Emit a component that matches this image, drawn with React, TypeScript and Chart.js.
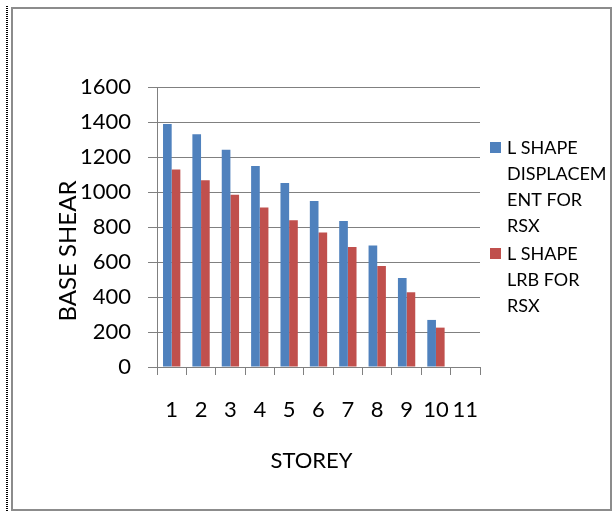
import React, { useEffect, useRef } from "react";
import { Chart, registerables } from "chart.js";

Chart.register(...registerables);

// Storey numbers along the x axis
const STOREYS = ["1", "2", "3", "4", "5", "6", "7", "8", "9", "10", "11"];

// Base shear per storey
const DISPLACEMENT_RSX = [1388, 1330, 1242, 1149, 1051, 949, 834, 694, 509, 269, null];
const LRB_RSX = [1128, 1067, 985, 911, 838, 768, 686, 577, 427, 225, null];

// Legend text, wrapped the way it is shown beside the plot
const DISPLACEMENT_LEGEND = ["L SHAPE", "DISPLACEM", "ENT FOR", "RSX"];
const LRB_LEGEND = ["L SHAPE", "LRB FOR", "RSX"];

const Y_MIN = 0;
const Y_MAX = 1600;
const Y_STEP = 200;

const X_TITLE = "STOREY";
const Y_TITLE = "BASE SHEAR";

const BLUE = "#4F81BD";
const RED = "#C0504D";
const GRID = "#808080";
const FONT = "Lato, Carlito, Calibri, 'Open Sans', sans-serif";

// White page with the grey chart border and the dotted edge on the left
const framePlugin = {
  id: "frame",
  beforeDraw(chart: any) {
    const { ctx, width, height } = chart;
    ctx.save();
    ctx.fillStyle = "#ffffff";
    ctx.fillRect(0, 0, width, height);
    ctx.strokeStyle = "#8c8c8c";
    ctx.lineWidth = 2;
    ctx.strokeRect(12, 8, width - 14, height - 9);
    ctx.fillStyle = "#000000";
    for (let y = 6; y < height; y += 2) ctx.fillRect(6, y, 2, 1);
    ctx.restore();
  },
};

// Axis titles and the wrapped legend on the right
const annotatePlugin = {
  id: "annotate",
  afterDraw(chart: any) {
    const { ctx, chartArea: ca } = chart;
    const midY = (ca.top + ca.bottom) / 2;
    ctx.save();
    ctx.fillStyle = "#000000";
    ctx.textBaseline = "middle";
    ctx.textAlign = "center";

    ctx.font = `22px ${FONT}`;
    ctx.fillText(X_TITLE, (ca.left + ca.right) / 2 - 7, ca.bottom + 94);

    ctx.font = `24px ${FONT}`;
    ctx.save();
    ctx.translate(ca.left - 89, midY + 24);
    ctx.rotate(-Math.PI / 2);
    ctx.fillText(Y_TITLE, 0, 0);
    ctx.restore();

    const lineH = 26;
    const itemGap = 28;
    const items = chart.data.datasets.map((ds: any) => ({
      color: ds.backgroundColor,
      lines: ds.legendLines as string[],
    }));
    let span = 0;
    items.forEach((it: any, i: number) => {
      span += (it.lines.length - 1) * lineH;
      if (i < items.length - 1) span += itemGap;
    });
    let y = midY - span / 2 - 1;
    ctx.font = `18px ${FONT}`;
    ctx.textAlign = "left";
    items.forEach((it: any) => {
      ctx.fillStyle = it.color;
      ctx.fillRect(ca.right + 10, Math.round(y - 5.5), 11, 11);
      ctx.fillStyle = "#000000";
      it.lines.forEach((line: string, k: number) => {
        ctx.fillText(line, ca.right + 27, y + 1);
        if (k < it.lines.length - 1) y += lineH;
      });
      y += itemGap;
    });
    ctx.restore();
  },
};

export default function App() {
  const canvasRef = useRef<HTMLCanvasElement | null>(null);

  useEffect(() => {
    const canvas = canvasRef.current;
    if (!canvas) return;
    const chart = new Chart(canvas, {
      type: "bar",
      data: {
        labels: STOREYS,
        datasets: [
          {
            label: DISPLACEMENT_LEGEND.join(""),
            legendLines: DISPLACEMENT_LEGEND,
            data: DISPLACEMENT_RSX,
            backgroundColor: BLUE,
            borderWidth: 0,
            categoryPercentage: 0.59,
            barPercentage: 1,
          } as any,
          {
            label: LRB_LEGEND.join(" "),
            legendLines: LRB_LEGEND,
            data: LRB_RSX,
            backgroundColor: RED,
            borderWidth: 0,
            categoryPercentage: 0.59,
            barPercentage: 1,
          } as any,
        ],
      },
      options: {
        responsive: true,
        maintainAspectRatio: false,
        animation: false,
        layout: { padding: { left: 0, right: 133, top: 87, bottom: 0 } },
        plugins: {
          legend: { display: false },
          tooltip: { enabled: false },
          title: { display: false },
        },
        scales: {
          x: {
            offset: true,
            grid: {
              offset: true,
              drawOnChartArea: false,
              drawTicks: true,
              tickLength: 8,
              color: GRID,
              lineWidth: 1,
            },
            border: { color: GRID, width: 1 },
            ticks: {
              color: "#000000",
              font: { family: FONT, size: 22 },
              padding: 22,
              maxRotation: 0,
              autoSkip: false,
            },
            afterFit(scale: any) {
              scale.height = 144;
            },
          },
          y: {
            min: Y_MIN,
            max: Y_MAX,
            grid: {
              color: GRID,
              lineWidth: 1,
              drawTicks: true,
              tickLength: 9,
            },
            border: { color: GRID, width: 1 },
            ticks: {
              stepSize: Y_STEP,
              color: "#000000",
              font: { family: FONT, size: 22 },
              padding: 17,
              callback: (value: any) => String(value),
            },
            afterFit(scale: any) {
              scale.width = 157;
            },
          },
        },
      },
      plugins: [framePlugin, annotatePlugin],
    });
    return () => chart.destroy();
  }, []);

  return (
    <div style={{ position: "fixed", left: 0, top: 0, width: 613, height: 511 }}>
      <canvas ref={canvasRef} />
    </div>
  );
}
